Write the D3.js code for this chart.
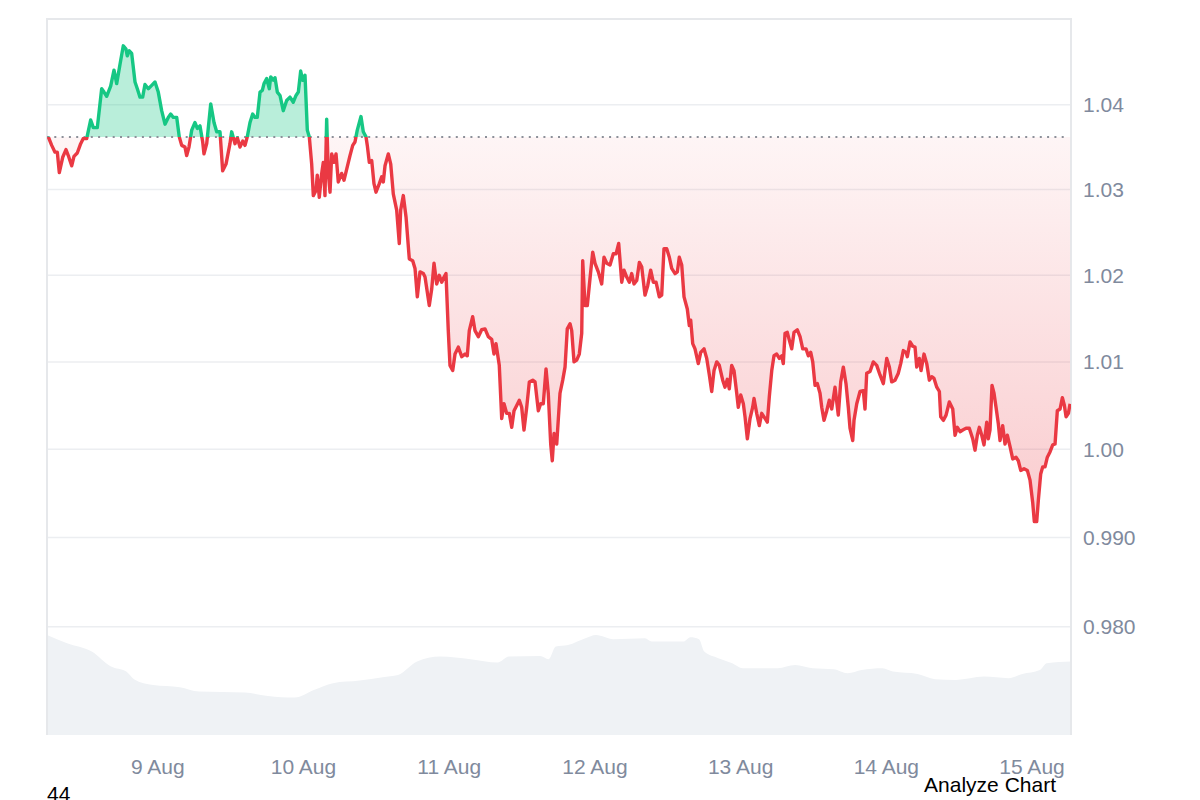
<!DOCTYPE html>
<html>
<head>
<meta charset="utf-8">
<script src="https://cdn.jsdelivr.net/npm/d3@7"></script>
<style>
  body { margin: 0; background: #fff; }
  svg { display: block; font-family: "Liberation Sans", Arial, sans-serif; }
</style>
</head>
<body>
<svg id="chart" width="1200" height="800"></svg>
<script>
// Price samples: hours since 8 Aug 00:00 and price
const priceHours = [
  6.05, 6.61, 7.15, 7.53, 7.86, 8.42, 8.96, 9.34, 9.90, 10.28,
  10.82, 11.38, 11.81, 12.37, 13.03, 13.46, 14.12, 14.84, 15.22, 15.66,
  16.32, 16.87, 17.31, 17.86, 18.40, 18.84, 19.06, 19.39, 19.78, 20.33,
  20.71, 21.15, 21.59, 21.97, 22.52, 23.08, 23.62, 24.16, 24.72, 25.27,
  25.81, 26.21, 26.64, 27.20, 27.62, 28.02, 28.56, 28.84, 29.22, 29.67,
  30.21, 30.59, 31.03, 31.48, 31.69, 32.14, 32.80, 33.34, 33.78, 34.33,
  34.77, 35.32, 35.97, 36.25, 36.80, 37.18, 37.62, 38.07, 38.45, 38.82,
  39.27, 39.71, 40.09, 40.47, 40.92, 41.30, 41.58, 42.02, 42.45, 42.68,
  43.11, 43.39, 43.77, 44.21, 44.75, 45.31, 45.86, 46.40, 46.85, 47.23,
  47.62, 47.95, 48.33, 48.71, 49.04, 49.43, 49.70, 50.14, 50.35, 50.68,
  51.08, 51.34, 51.62, 51.90, 52.17, 52.45, 52.73, 53.11, 53.44, 53.81,
  54.37, 54.75, 55.20, 55.74, 56.19, 56.56, 56.94, 57.55, 57.93, 58.38,
  58.59, 58.92, 59.32, 59.69, 60.02, 60.57, 60.96, 61.23, 61.51, 62.05,
  62.45, 62.87, 63.43, 63.86, 64.09, 64.52, 64.97, 65.51, 66.07, 66.45,
  66.83, 67.27, 67.82,
  68.10, 68.80, 69.20, 69.58, 70.02, 70.45, 70.85, 71.23, 71.55, 71.93,
  72.21, 72.66, 73.04, 73.58, 74.14, 74.69, 75.06, 75.39, 75.95, 76.33,
  76.88, 77.43, 77.98, 78.52, 79.08, 79.46, 79.79, 80.33, 80.73, 81.11,
  81.55, 81.98, 82.38, 82.76, 83.20, 83.63, 84.02, 84.40, 84.85, 85.28,
  85.84, 86.22, 86.76, 87.15, 87.58, 88.03, 88.40, 88.80, 89.06, 89.35,
  89.79, 90.33, 90.78, 91.16, 91.53, 91.98, 92.26, 92.64, 93.08, 93.51,
  93.91, 94.07, 94.45, 94.83, 95.27, 95.72, 96.10, 96.64, 97.20, 97.58, 98.03, 98.57,
  99.11, 99.56, 100.00, 100.50, 100.87, 101.32, 101.75, 102.14, 102.52, 102.97,
  103.40, 103.79, 104.33, 104.78, 105.27, 105.70, 106.15, 106.69, 107.08, 107.46,
  107.91, 108.34, 108.73, 109.28, 109.66, 109.98, 110.38, 110.76, 111.30, 111.63,
  111.86, 112.19, 112.57, 113.11, 113.51, 114.05, 114.50, 114.93, 115.32, 115.70,
  116.15, 116.57, 117.13, 117.51, 117.89, 118.22, 118.61, 118.99, 119.44, 119.70,
  120.10, 120.53, 120.81, 121.19, 121.63, 122.07, 122.29, 122.73, 123.16, 123.56,
  123.94, 124.48, 124.81, 125.21, 125.58, 126.03, 126.46, 126.85, 127.11, 127.40,
  127.77, 128.10, 128.50, 128.88, 129.42, 129.87, 130.31, 130.85, 131.23, 131.63,
  131.96, 132.34, 132.72, 133.16, 133.44, 133.82, 134.27, 134.69, 135.09, 135.63,
  136.17, 136.57, 137.00, 137.44, 137.82, 138.10, 138.55, 138.76, 139.21, 139.75,
  140.29, 140.57, 140.85, 141.40, 141.94, 142.50, 143.04, 143.59, 144.15, 144.58,
  144.97, 145.51, 146.06, 146.45, 146.88, 147.33, 147.54, 147.99, 148.43, 148.81,
  149.09, 149.52, 149.80, 150.29, 150.74, 151.17, 151.56, 151.94, 152.39, 152.82,
  153.04, 153.47, 153.92, 154.46, 155.02, 155.40, 155.78, 156.22, 156.67, 157.21,
  157.75, 158.31, 158.69, 159.07, 159.40, 159.80, 160.17, 160.62, 160.88, 161.16,
  161.49, 161.82, 162.15, 162.53, 162.81, 163.25, 163.63, 164.01, 164.46, 164.90,
  165.44, 165.82, 166.22, 166.76, 167.31, 167.75, 168.20, 168.46, 168.85, 169.12,
  169.51, 169.84, 170.22, 170.60, 171.04, 171.49, 171.87, 172.25, 172.70, 173.08,
  173.41, 173.69, 174.07, 174.35
];
const priceValues = [
  1.0362, 1.0352, 1.0344, 1.0344, 1.0320, 1.0338, 1.0347, 1.0340, 1.0328, 1.0339,
  1.0343, 1.0354, 1.0360, 1.0360, 1.0382, 1.0373, 1.0373, 1.0419, 1.0415, 1.0410,
  1.0422, 1.0441, 1.0425, 1.0448, 1.0470, 1.0466, 1.0458, 1.0464, 1.0461, 1.0427,
  1.0419, 1.0409, 1.0409, 1.0424, 1.0419, 1.0423, 1.0427, 1.0415, 1.0393, 1.0377,
  1.0385, 1.0389, 1.0385, 1.0385, 1.0362, 1.0352, 1.0350, 1.0340, 1.0350, 1.0370,
  1.0379, 1.0372, 1.0375, 1.0356, 1.0342, 1.0354, 1.0401, 1.0379, 1.0368, 1.0368,
  1.0322, 1.0330, 1.0354, 1.0368, 1.0354, 1.0361, 1.0350, 1.0357, 1.0352, 1.0362,
  1.0379, 1.0389, 1.0385, 1.0385, 1.0415, 1.0417, 1.0425, 1.0431, 1.0419, 1.0433,
  1.0429, 1.0432, 1.0415, 1.0411, 1.0393, 1.0405, 1.0409, 1.0403, 1.0411, 1.0415,
  1.0440, 1.0429, 1.0435, 1.0370, 1.0362, 1.0330, 1.0293, 1.0299, 1.0317, 1.0291,
  1.0319, 1.0332, 1.0293, 1.0383, 1.0319, 1.0297, 1.0342, 1.0332, 1.0342, 1.0309,
  1.0319, 1.0311, 1.0324, 1.0340, 1.0352, 1.0356, 1.0370, 1.0386, 1.0368, 1.0362,
  1.0352, 1.0332, 1.0334, 1.0307, 1.0297, 1.0307, 1.0315, 1.0309, 1.0328, 1.0342,
  1.0330, 1.0295, 1.0276, 1.0237, 1.0276, 1.0293, 1.0268, 1.0219, 1.0217, 1.0208,
  1.0175, 1.0204, 1.0202,
  1.0198, 1.0165, 1.0184, 1.0214, 1.0190, 1.0200, 1.0192, 1.0198, 1.0202, 1.0136,
  1.0096, 1.0090, 1.0109, 1.0117, 1.0106, 1.0109, 1.0107, 1.0136, 1.0152, 1.0136,
  1.0129, 1.0137, 1.0138, 1.0129, 1.0126, 1.0109, 1.0121, 1.0096, 1.0035, 1.0052,
  1.0041, 1.0041, 1.0025, 1.0044, 1.0050, 1.0056, 1.0048, 1.0022, 1.0048, 1.0077,
  1.0079, 1.0077, 1.0044, 1.0052, 1.0052, 1.0092, 1.0064, 1.0006, 0.9987, 1.0018,
  1.0006, 1.0064, 1.0079, 1.0094, 1.0138, 1.0144, 1.0136, 1.0100, 1.0102, 1.0109,
  1.0133, 1.0217, 1.0165, 1.0165, 1.0196, 1.0227, 1.0214, 1.0204, 1.0190, 1.0221, 1.0214, 1.0212,
  1.0225, 1.0225, 1.0237, 1.0192, 1.0206, 1.0198, 1.0192, 1.0202, 1.0190, 1.0194,
  1.0215, 1.0210, 1.0177, 1.0188, 1.0206, 1.0192, 1.0192, 1.0175, 1.0177, 1.0231,
  1.0231, 1.0221, 1.0208, 1.0202, 1.0204, 1.0221, 1.0212, 1.0175, 1.0161, 1.0142,
  1.0148, 1.0121, 1.0115, 1.0098, 1.0111, 1.0115, 1.0104, 1.0085, 1.0066, 1.0090,
  1.0100, 1.0096, 1.0079, 1.0071, 1.0080, 1.0069, 1.0096, 1.0090, 1.0064, 1.0048,
  1.0062, 1.0052, 1.0037, 1.0012, 1.0035, 1.0048, 1.0058, 1.0041, 1.0027, 1.0041,
  1.0037, 1.0031, 1.0060, 1.0090, 1.0107, 1.0109, 1.0104, 1.0107, 1.0098, 1.0133,
  1.0134, 1.0125, 1.0115, 1.0134, 1.0137, 1.0129, 1.0115, 1.0115, 1.0107, 1.0111,
  1.0100, 1.0073, 1.0075, 1.0064, 1.0048, 1.0033, 1.0044, 1.0056, 1.0046, 1.0071,
  1.0039, 1.0077, 1.0094, 1.0075, 1.0048, 1.0024, 1.0010, 1.0033, 1.0052, 1.0066,
  1.0067, 1.0046, 1.0087, 1.0089, 1.0100, 1.0096, 1.0085, 1.0075, 1.0104, 1.0094,
  1.0077, 1.0079, 1.0087, 1.0098, 1.0113, 1.0111, 1.0106, 1.0123, 1.0118, 1.0117,
  1.0094, 1.0104, 1.0090, 1.0109, 1.0098, 1.0079, 1.0083, 1.0081, 1.0071, 1.0066,
  1.0037, 1.0033, 1.0039, 1.0054, 1.0046, 1.0016, 1.0025, 1.0020, 1.0022, 1.0024,
  1.0024, 1.0012, 0.9999, 1.0016, 1.0025, 1.0016, 1.0005, 1.0031, 1.0012, 1.0022,
  1.0073, 1.0064, 1.0048, 1.0029, 1.0010, 1.0027, 1.0006, 1.0016, 1.0003, 0.9989,
  0.9991, 0.9987, 0.9976, 0.9978, 0.9976, 0.9965, 0.9939, 0.9918, 0.9918, 0.9942,
  0.9972, 0.9980, 0.9980, 0.9991, 0.9997, 1.0005, 1.0006, 1.0044, 1.0046, 1.0059,
  1.0050, 1.0037, 1.0041, 1.0052
];

// Volume (millions), same hour base
const volumeHours = [
  5.83, 9.13, 13.21, 16.37, 18.89, 20.16, 23.31, 27.72, 30.87, 38.43,
  42.22, 46.63, 49.78, 52.94, 57.34, 61.13, 63.65, 66.79, 70.58, 75.62,
  80.04, 81.93, 87.04, 88.47, 89.63, 91.65, 94.52, 96.25, 99.13, 104.32,
  105.45, 110.64, 111.80, 113.23, 114.10, 116.41, 118.70, 120.43, 126.19, 129.07,
  131.94, 135.40, 137.71, 140.01, 143.45, 145.18, 149.22, 152.10, 155.55, 160.16,
  164.19, 166.48, 169.37, 170.52, 174.50
];
const volumeValues = [
  50.0, 45.9, 41.7, 34.2, 31.7, 27.9, 25.0, 23.9, 21.7, 21.2,
  19.5, 18.7, 22.5, 25.9, 27.2, 28.9, 30.0, 36.7, 39.2, 37.9,
  36.2, 39.2, 39.5, 37.9, 44.2, 45.0, 48.4, 50.0, 47.9, 48.4,
  46.7, 46.7, 48.9, 47.9, 41.7, 38.4, 35.9, 33.4, 33.4, 35.0,
  33.4, 32.9, 30.9, 32.5, 33.4, 31.7, 30.5, 27.9, 27.5, 29.2,
  28.4, 30.5, 32.5, 35.9, 36.7
];

const openPrice = 1.0362;
const yTicks = [1.04, 1.03, 1.02, 1.01, 1.00, 0.99, 0.98];
const yTickLabels = ["1.04", "1.03", "1.02", "1.01", "1.00", "0.990", "0.980"];
const startHour = 5.833;
const endHour = 174.5;

const day0 = new Date(2024, 7, 8);
const toDate = (h) => new Date(day0.getTime() + h * 3600 * 1000);

const prices = priceHours.map((h, i) => ({ t: toDate(h), v: priceValues[i] }));
const volumes = volumeHours.map((h, i) => ({ t: toDate(h), v: volumeValues[i] }));

const margin = { left: 47, right: 129, top: 19, bottom: 65 };
const width = 1200, height = 800;
const plotRight = width - margin.right;
const plotBottom = height - margin.bottom;

const svg = d3.select("#chart");

const x = d3.scaleTime()
  .domain([toDate(startHour), toDate(endHour)])
  .range([margin.left, plotRight]);

const y = d3.scaleLog()
  .domain([0.968, 1.0502])
  .range([plotBottom, margin.top]);

const yVol = d3.scaleLinear()
  .domain([0, 50])
  .range([plotBottom, plotBottom - 100]);

const green = "#16c784";
const red = "#ea3943";
const baseY = y(openPrice);

// defs: clips + red gradient
const defs = svg.append("defs");
defs.append("clipPath").attr("id", "clip-above")
  .append("rect")
  .attr("x", margin.left).attr("y", margin.top)
  .attr("width", plotRight - margin.left).attr("height", baseY - margin.top);
defs.append("clipPath").attr("id", "clip-below")
  .append("rect")
  .attr("x", margin.left).attr("y", baseY)
  .attr("width", plotRight - margin.left).attr("height", plotBottom - baseY);

const grad = defs.append("linearGradient")
  .attr("id", "red-fill")
  .attr("gradientUnits", "userSpaceOnUse")
  .attr("x1", 0).attr("x2", 0)
  .attr("y1", baseY).attr("y2", y(d3.min(priceValues)));
grad.append("stop").attr("offset", 0).attr("stop-color", red).attr("stop-opacity", 0.05);
grad.append("stop").attr("offset", 1).attr("stop-color", red).attr("stop-opacity", 0.26);

// volume area
svg.append("path")
  .datum(volumes)
  .attr("fill", "#eff2f5")
  .attr("d", d3.area()
    .x((d) => x(d.t))
    .y0(plotBottom)
    .y1((d) => yVol(d.v))
    .curve(d3.curveMonotoneX));

// gridlines
svg.append("g")
  .selectAll("line")
  .data(yTicks)
  .enter()
  .append("line")
  .attr("x1", margin.left).attr("x2", plotRight)
  .attr("y1", (d) => y(d)).attr("y2", (d) => y(d))
  .attr("stroke", "#eceef1")
  .attr("stroke-width", 1.5);

// frame (top, left, right)
svg.append("path")
  .attr("d", `M${margin.left},${plotBottom}V${margin.top}H${plotRight}V${plotBottom}`)
  .attr("fill", "none")
  .attr("stroke", "#e6e8eb")
  .attr("stroke-width", 2);

const area = d3.area()
  .x((d) => x(d.t))
  .y0(baseY)
  .y1((d) => y(d.v));
const line = d3.line()
  .x((d) => x(d.t))
  .y((d) => y(d.v));

svg.append("path").datum(prices)
  .attr("clip-path", "url(#clip-above)")
  .attr("fill", green).attr("fill-opacity", 0.3)
  .attr("d", area);
svg.append("path").datum(prices)
  .attr("clip-path", "url(#clip-below)")
  .attr("fill", "url(#red-fill)")
  .attr("d", area);

// dotted open-price line
svg.append("line")
  .attr("x1", margin.left).attr("x2", plotRight - 4)
  .attr("y1", baseY).attr("y2", baseY)
  .attr("stroke", "#8c9099")
  .attr("stroke-width", 2)
  .attr("stroke-dasharray", "2,5.3");

svg.append("path").datum(prices)
  .attr("clip-path", "url(#clip-above)")
  .attr("fill", "none").attr("stroke", green)
  .attr("stroke-width", 3.4).attr("stroke-linejoin", "round")
  .attr("d", line);
svg.append("path").datum(prices)
  .attr("clip-path", "url(#clip-below)")
  .attr("fill", "none").attr("stroke", red)
  .attr("stroke-width", 3.4).attr("stroke-linejoin", "round")
  .attr("d", line);

// y axis on the right
const yAxis = svg.append("g")
  .attr("transform", `translate(${plotRight},0)`)
  .call(d3.axisRight(y)
    .tickValues(yTicks)
    .tickFormat((d, i) => yTickLabels[i])
    .tickSize(0)
    .tickPadding(12));
yAxis.select(".domain").remove();
yAxis.selectAll("text")
  .attr("fill", "#808a9d")
  .style("font-size", "21px")
  .style("font-family", '"Liberation Sans", Arial, sans-serif');

// x axis
const xAxis = svg.append("g")
  .attr("transform", `translate(0,${plotBottom})`)
  .call(d3.axisBottom(x)
    .ticks(d3.timeDay.every(1))
    .tickFormat(d3.timeFormat("%-d %b"))
    .tickSize(0)
    .tickPadding(24));
xAxis.select(".domain").remove();
xAxis.selectAll("text")
  .attr("fill", "#808a9d")
  .style("font-size", "21px")
  .style("font-family", '"Liberation Sans", Arial, sans-serif');

// footer texts
svg.append("text")
  .attr("x", margin.left).attr("y", 801)
  .attr("fill", "#000")
  .style("font-size", "21px")
  .text("44");
svg.append("text")
  .attr("x", 1056).attr("y", 792)
  .attr("text-anchor", "end")
  .attr("fill", "#000")
  .style("font-size", "21px")
  .text("Analyze Chart");
</script>
</body>
</html>
